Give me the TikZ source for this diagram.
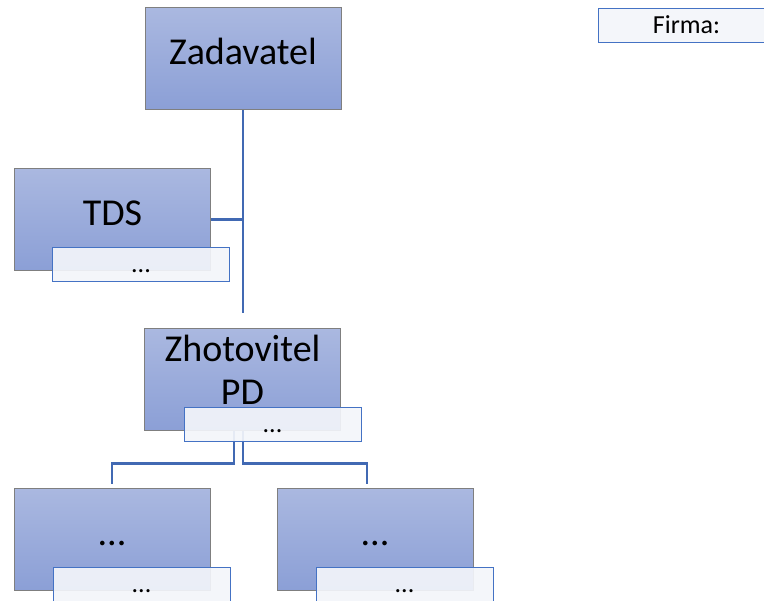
\documentclass[tikz,border=0pt]{standalone}
\usepackage{fontspec}
\setmainfont{Carlito}
\usetikzlibrary{positioning}
\definecolor{boxtop}{HTML}{AAB8E0}
\definecolor{boxbot}{HTML}{8B9FD6}
\definecolor{boxedge}{HTML}{7F7F7F}
\definecolor{linkblue}{HTML}{4169B3}
\definecolor{tagblue}{HTML}{4472C4}
\definecolor{tagfill}{HTML}{F3F5FA}

\begin{document}
\begin{tikzpicture}[x=1pt,y=-1pt]
\tikzstyle{role}=[draw=boxedge,line width=1pt,top color=boxtop,bottom color=boxbot,minimum width=196pt,minimum height=102pt,inner sep=0pt,font=\fontsize{38}{43}\selectfont]
\tikzstyle{oneline}=[text height=27pt,text depth=15pt]
\tikzstyle{tag}=[draw=tagblue,line width=1pt,fill=tagfill,fill opacity=0.92,text opacity=1,minimum width=177pt,minimum height=34pt,inner sep=0pt,font=\fontsize{26}{30}\selectfont,text height=20pt,text depth=4pt]
\tikzstyle{link}=[draw=linkblue,line width=2.6pt]

\useasboundingbox (0,0) rectangle (764,601);

% boxes
\node[role,oneline]      (zad) at (243,59)      {Zadavatel};
\node[role,oneline]      (tds) at (112.5,219.5) {TDS};
\node[role,align=center,text depth=20pt] (zho) at (242.5,380) {Zhotovitel\\PD};
\node[role,oneline]      (lo1) at (112,539.5)   {...};
\node[role,oneline]      (lo2) at (375,539.5)   {...};

% connectors
\coordinate (trunk) at (243,313);
\draw[link] (zad.south) -- (trunk);
\draw[link] (tds.east) -- (tds.east -| zad.south);
\draw[link] ([xshift=-8.5pt]zho.south) -- ++(0,32) -| ([yshift=4pt]lo1.north);
\draw[link] ([xshift=0.5pt]zho.south) -- ++(0,32) -| ([xshift=-8pt,yshift=4pt]lo2.north);

% text tags
\node[tag] (tdstag) at (141,264.5)   {...};
\node[tag] (zhotag) at (272.5,424.5) {...};
\node[tag] (lo1tag) at (141.5,585)   {...};
\node[tag] (lo2tag) at (404.5,585)   {...};
\node[tag] (firma)  at (686.5,26)    {Firma:};
\end{tikzpicture}
\end{document}
